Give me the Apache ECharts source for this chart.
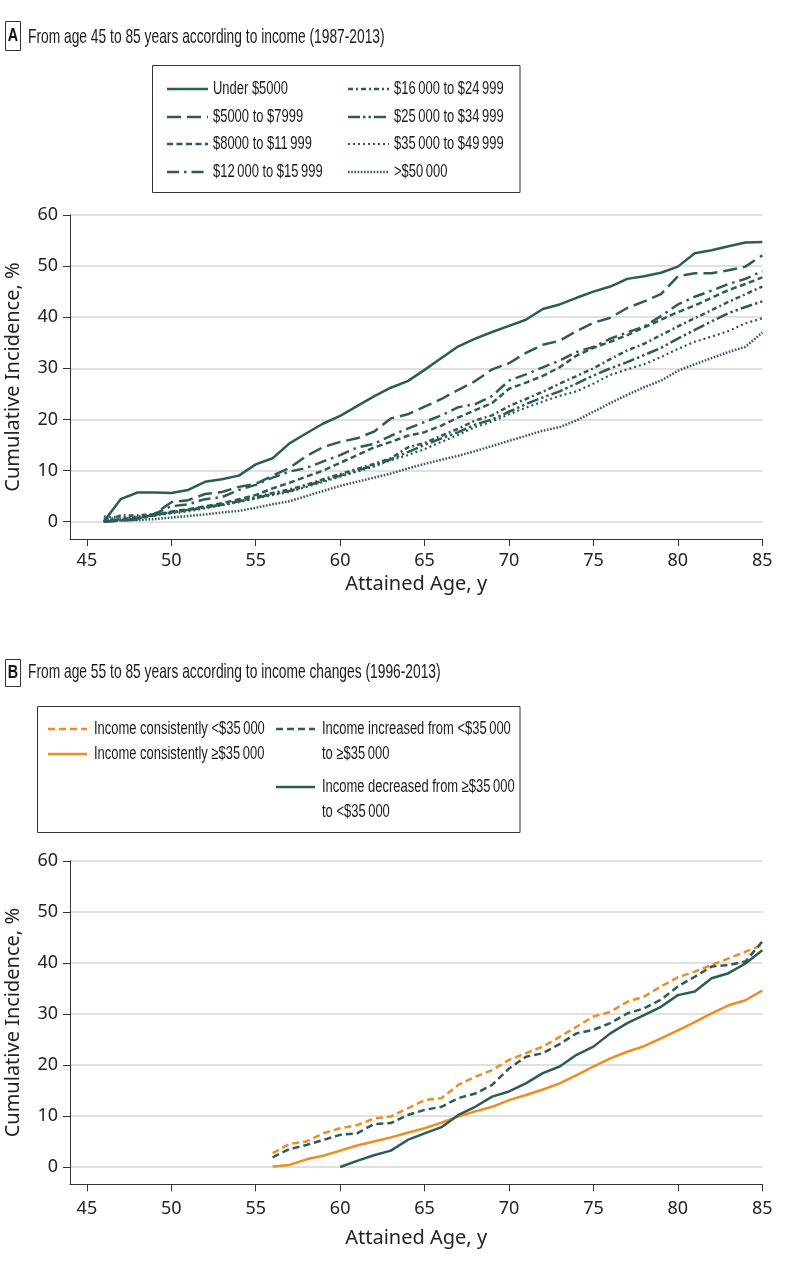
<!DOCTYPE html>
<html><head><meta charset="utf-8">
<script src="https://cdn.jsdelivr.net/npm/echarts@6/dist/echarts.min.js"></script>
<style>html,body{margin:0;padding:0;background:#fff}#c{width:798px;height:1267px}</style>
</head><body><div id="c"></div>
<script>
// ---------------- DATA ----------------
const xTicks = [45, 50, 55, 60, 65, 70, 75, 80, 85];
const yTicks = [0, 10, 20, 30, 40, 50, 60];

const agesA = [46,47,48,49,50,51,52,53,54,55,56,57,58,59,60,61,62,63,64,65,66,67,68,69,70,71,72,73,74,75,76,77,78,79,80,81,82,83,84,85];
const namesA = ['Under $5000', '$5000 to $7999', '$8000 to $11\u2009999', '$12\u2009000 to $15\u2009999',
  '$16\u2009000 to $24\u2009999', '$25\u2009000 to $34\u2009999', '$35\u2009000 to $49\u2009999', '>$50\u2009000'];
const under5000 = [0,4.4,5.7,5.7,5.6,6.2,7.8,8.3,9.0,11.2,12.4,15.3,17.3,19.2,20.7,22.6,24.5,26.2,27.5,29.7,32.0,34.3,35.8,37.1,38.3,39.5,41.6,42.5,43.8,45.0,46.0,47.5,48.0,48.7,49.9,52.5,53.1,53.9,54.6,54.7];
const inc5000_7999 = [0,0.2,0.4,1.5,3.8,4.2,5.4,5.8,6.8,7.4,9.0,10.5,12.8,14.6,15.6,16.3,17.6,20.2,21.0,22.5,24.0,25.8,27.5,29.8,31.0,33.0,34.6,35.4,37.3,38.9,39.9,41.8,43.1,44.5,48.0,48.6,48.6,49.2,49.9,52.1];
const inc8000_11999 = [0,0.5,0.8,1.2,2.0,2.4,3.0,3.6,4.4,5.2,6.5,7.6,8.8,10.0,11.5,13.0,14.5,15.6,16.8,17.5,18.8,20.4,21.8,23.2,26.0,27.2,28.5,30.2,32.5,34.0,35.2,36.5,38.0,39.5,41.0,42.3,43.8,45.3,46.5,47.8];
const inc12000_15999 = [0,0.2,0.6,1.5,3.0,3.4,4.4,4.8,6.2,7.2,8.6,9.8,10.5,11.8,13.0,14.5,15.2,16.8,18.2,19.5,20.8,22.4,23.0,24.6,27.6,28.8,30.2,31.5,33.2,34.2,35.8,37.0,38.2,40.2,42.5,44.0,45.2,46.5,47.5,49.0];
const inc16000_24999 = [0,1.2,1.2,1.5,1.8,2.2,2.8,3.3,4.0,4.8,5.6,6.3,7.2,8.3,9.3,10.3,11.3,12.4,14.5,15.4,16.8,18.2,19.8,20.8,22.6,24.0,25.4,27.0,28.5,30.0,31.8,33.5,34.8,36.5,38.2,39.8,41.4,43.0,44.5,46.0];
const inc25000_34999 = [0,0.3,0.6,1.3,1.8,2.3,2.8,3.3,4.0,4.6,5.4,6.0,7.0,8.0,9.0,10.0,11.0,12.2,13.6,15.0,16.3,17.5,19.0,20.0,21.5,23.0,24.3,25.5,27.0,28.6,30.0,31.2,32.6,34.0,35.8,37.5,39.2,40.8,42.0,43.1];
const inc35000_49999 = [1.0,0.8,1.0,1.2,1.6,2.0,2.6,3.2,3.8,4.5,5.2,5.8,6.8,7.8,8.8,9.8,10.8,12.0,13.0,14.2,15.6,17.0,18.5,19.6,21.0,22.3,23.5,24.6,25.5,27.0,28.7,29.8,30.8,32.2,33.8,35.2,36.2,37.3,38.8,39.8];
const over50000 = [0.5,0.3,0.3,0.5,0.8,1.1,1.4,1.8,2.1,2.7,3.4,4.0,5.0,6.0,7.0,7.8,8.6,9.4,10.4,11.3,12.1,12.9,13.8,14.8,15.8,16.8,17.8,18.5,19.8,21.5,23.2,24.8,26.3,27.6,29.5,30.8,32.0,33.2,34.2,37.0];

const agesB = [56,57,58,59,60,61,62,63,64,65,66,67,68,69,70,71,72,73,74,75,76,77,78,79,80,81,82,83,84,85];
const agesBdec = [60,61,62,63,64,65,66,67,68,69,70,71,72,73,74,75,76,77,78,79,80,81,82,83,84,85];
const namesB = ['Income consistently <$35\u2009000', 'Income consistently \u2265$35\u2009000',
  'Income increased from <$35\u2009000 to \u2265$35\u2009000', 'Income decreased from \u2265$35\u2009000 to <$35\u2009000'];
const consistLow = [2.7,4.5,5.0,6.6,7.6,8.2,9.5,9.9,11.5,13.1,13.5,16.1,17.7,19.0,21.0,22.3,23.6,25.5,27.5,29.5,30.4,32.4,33.4,35.4,37.2,38.3,39.6,40.9,42.2,43.5];
const consistHigh = [0.1,0.4,1.5,2.2,3.2,4.2,5.0,5.8,6.7,7.6,8.7,9.9,10.9,11.8,13.1,14.1,15.2,16.4,18.0,19.7,21.3,22.6,23.7,25.2,26.8,28.4,30.1,31.7,32.7,34.6];
const increased = [1.9,3.5,4.3,5.3,6.3,6.6,8.4,8.6,10.2,11.2,11.8,13.5,14.4,16.1,19.3,21.6,22.3,24.1,26.2,26.9,28.2,30.1,31.1,32.8,35.4,37.3,39.3,39.6,40.3,44.2];
const decreased = [0,1.2,2.3,3.2,5.3,6.6,7.8,10.2,11.8,13.8,14.8,16.4,18.4,19.7,22.0,23.6,26.2,28.2,29.8,31.4,33.7,34.4,37.0,38.0,39.9,42.5];

// ---------------- STYLE ----------------
const TEAL = '#2d5b56';
const ORANGE = '#f08c21';
const AXIS = '#333333';
const GRIDC = '#d6d6d6';
const NUMFONT = 'Noto Sans';
const CONDFONT = 'Liberation Sans';
const dashA = ['solid', [14, 6], [6, 3.5], [12, 5, 2.5, 5], [5, 3, 2, 3], [12, 3, 2.5, 3, 2.5, 3], [2, 3], [1.6, 1.6]];
const widthA = [2.5, 2.5, 2.5, 2.5, 2.5, 2.5, 2.2, 2.5];
const seriesA = [under5000, inc5000_7999, inc8000_11999, inc12000_15999, inc16000_24999, inc25000_34999, inc35000_49999, over50000];

function pair(ages, vals) { return ages.map((a, i) => [a, vals[i]]); }

function mkX(idx, margin, nameGap) {
  return {
    type: 'value', gridIndex: idx, min: 44, max: 85, splitNumber: 8,
    axisLine: { show: true, onZero: false, lineStyle: { color: AXIS, width: 1 } },
    axisTick: { show: true, length: 7, customValues: xTicks, lineStyle: { color: AXIS } },
    axisLabel: { customValues: xTicks, margin: margin, fontSize: 18, color: '#222', fontFamily: NUMFONT,
      formatter: v => (v % 5 === 0 ? String(v) : '') },
    splitLine: { show: false },
    name: 'Attained Age, y', nameLocation: 'middle', nameGap: nameGap,
    nameTextStyle: { fontSize: 20, color: '#222', fontFamily: NUMFONT }
  };
}
function mkY(idx) {
  return {
    type: 'value', gridIndex: idx, min: -3.4, max: 60,
    axisLine: { show: true, onZero: false, lineStyle: { color: AXIS, width: 1 } },
    axisTick: { show: true, length: 7, customValues: yTicks, lineStyle: { color: AXIS } },
    axisLabel: { customValues: yTicks, margin: 12, fontSize: 18, color: '#222', fontFamily: NUMFONT,
      formatter: v => (v % 10 === 0 ? String(v) : '') },
    splitLine: { show: true, lineStyle: { color: GRIDC, width: 1.5 } },
    name: 'Cumulative Incidence, %', nameLocation: 'middle', nameGap: 47,
    nameTextStyle: { fontSize: 20, color: '#222', fontFamily: NUMFONT }
  };
}

const series = [];
seriesA.forEach((vals, i) => {
  series.push({
    name: namesA[i], type: 'line', xAxisIndex: 0, yAxisIndex: 0, data: pair(agesA, vals),
    symbol: 'none', showSymbol: false, silent: true,
    lineStyle: { color: TEAL, width: widthA[i], type: dashA[i], cap: 'butt', join: 'round' }
  });
});
const seriesBdef = [
  { name: namesB[0], ages: agesB, vals: consistLow, color: ORANGE, type: [7, 4] },
  { name: namesB[1], ages: agesB, vals: consistHigh, color: ORANGE, type: 'solid' },
  { name: namesB[2], ages: agesB, vals: increased, color: TEAL, type: [7, 4] },
  { name: namesB[3], ages: agesBdec, vals: decreased, color: TEAL, type: 'solid' }
];
seriesBdef.forEach(s => {
  series.push({
    name: s.name, type: 'line', xAxisIndex: 1, yAxisIndex: 1, data: pair(s.ages, s.vals),
    symbol: 'none', showSymbol: false, silent: true,
    lineStyle: { color: s.color, width: 2.5, type: s.type, cap: 'butt', join: 'round' }
  });
});

// ---------------- GRAPHIC (titles, legends) ----------------
const g = [];
function txt(x, y, text, size, sx, extraStyle) {
  g.push({ type: 'text', x: x, y: y, scaleX: sx, scaleY: 1, originX: 0, originY: 0, silent: true,
    style: Object.assign({ text: text, fontSize: size, fontFamily: CONDFONT, fill: '#1a1a1a', verticalAlign: 'middle', align: 'left' }, extraStyle || {}) });
}
function box(x, y, w, h) {
  g.push({ type: 'rect', silent: true, shape: { x: x, y: y, width: w, height: h }, style: { fill: 'none', stroke: '#333', lineWidth: 1 } });
}
function sample(x1, x2, y, color, dash, w) {
  g.push({ type: 'line', silent: true, shape: { x1: x1, y1: y, x2: x2, y2: y },
    style: { stroke: color, lineWidth: w, lineDash: dash === 'solid' ? null : dash, lineCap: 'butt' } });
}
const TS = 0.657, LS = 0.72;
// Panel A title
box(5.5, 21.5, 15, 29);
txt(13, 36.5, 'A', 18, 0.8, { fontWeight: 'bold', align: 'center', fill: '#111' });
txt(28, 37, 'From age 45 to 85 years according to income (1987-2013)', 21, TS);
// Panel A legend
box(152.5, 65.5, 367.5, 127);
const rowsA = [89, 117, 144, 172];
namesA.forEach((n, i) => {
  const col = i < 4 ? 0 : 1, r = i % 4;
  const lx = col === 0 ? 167 : 348, tx = col === 0 ? 213 : 394;
  sample(lx, lx + 41, rowsA[r], TEAL, dashA[i], widthA[i]);
  txt(tx, rowsA[r], n, 18, LS);
});
// Panel B title
box(5.5, 659.5, 15, 27);
txt(13, 673, 'B', 18, 0.8, { fontWeight: 'bold', align: 'center', fill: '#111' });
txt(28, 672, 'From age 55 to 85 years according to income changes (1996-2013)', 21, TS);
// Panel B legend
box(37.5, 706.5, 482.5, 126);
sample(48, 87, 729, ORANGE, [7, 4], 2.5);
txt(94, 729, namesB[0], 18, LS);
sample(48, 87, 754, ORANGE, 'solid', 2.5);
txt(94, 754, namesB[1], 18, LS);
sample(276, 315, 729, TEAL, [7, 4], 2.5);
txt(322, 729, 'Income increased from <$35\u2009000', 18, LS);
txt(322, 754, 'to \u2265$35\u2009000', 18, LS);
sample(276, 315, 787, TEAL, 'solid', 2.5);
txt(322, 787, 'Income decreased from \u2265$35\u2009000', 18, LS);
txt(322, 812, 'to <$35\u2009000', 18, LS);

const option = {
  animation: false,
  backgroundColor: '#ffffff',
  grid: [
    { left: 70, top: 215, width: 692.3, height: 324, containLabel: false, outerBoundsMode: 'none' },
    { left: 70, top: 861, width: 692.3, height: 323.3, containLabel: false, outerBoundsMode: 'none' }
  ],
  xAxis: [mkX(0, 13, 35), mkX(1, 16, 44)],
  yAxis: [mkY(0), mkY(1)],
  series: series,
  graphic: g
};
const chart = echarts.init(document.getElementById('c'), null, { renderer: 'canvas' });
chart.setOption(option);
</script></body></html>
